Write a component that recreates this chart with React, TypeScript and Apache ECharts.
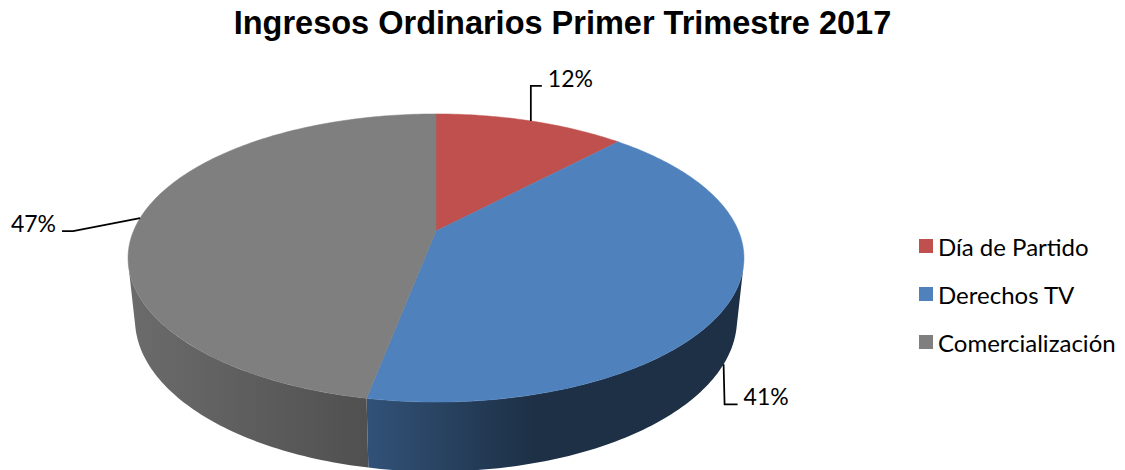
import React, { useEffect, useRef } from "react";
import * as echarts from "echarts";

// ---- data ----
const categories = ["Día de Partido", "Derechos TV", "Comercialización"];
const values = [12, 41, 47];
const sliceColors = ["#C0504D", "#4F81BD", "#7F7F7F"];
const titleText = "Ingresos Ordinarios Primer Trimestre 2017";

// ---- layout (3D projection of the pie) ----
const FONT = "Lato";
const TITLE_FONT = "Liberation Sans";
const CX = 436;
const CY = 231;
const SCALE = 302.5;
const SIN_E = 0.4595;
const COS_E = Math.sqrt(1 - SIN_E * SIN_E);
const DIST = 4.74;
const DEPTH = 0.23;
// leader line elbows / ends, relative to the slice anchor
const labelElbow = [[0, -35], [1, 40], [-67, 13]];
const labelEnd = [[11, -35], [14, 40], [-78, 13]];
// side shading along screen x (-1 left .. 1 right)
const shadeStops = [[0, 0.84], [0.4, 0.62], [0.66, 0.37], [1, 0.37]];

function project(thetaDeg: number, level: number): number[] {
  const t = (thetaDeg * Math.PI) / 180;
  const X = Math.sin(t);
  const Z = Math.cos(t);
  const Y = -DEPTH * level;
  const yc = Y * COS_E + Z * SIN_E;
  const zc = Z * COS_E - Y * SIN_E;
  const w = 1 + zc / DIST;
  return [CX + (SCALE * X) / w, CY - (SCALE * yc) / w];
}

function scaleColor(hex: string, f: number): string {
  const n = parseInt(hex.slice(1), 16);
  const r = Math.round(((n >> 16) & 255) * f);
  const g = Math.round(((n >> 8) & 255) * f);
  const b = Math.round((n & 255) * f);
  return `rgb(${r},${g},${b})`;
}

const total = values.reduce((a, b) => a + b, 0);

function renderSlice(params: any, api: any) {
  const idx = params.dataIndex;
  let before = 0;
  for (let i = 0; i < idx; i++) before += values[i];
  const v = api.value(0);
  const a = (before / total) * 360;
  const b = ((before + v) / total) * 360;
  const base = sliceColors[idx];
  const children: any[] = [];

  // visible side wall
  const lim = (Math.acos(-1 / (DIST * COS_E)) * 180) / Math.PI;
  const lo = Math.max(a, lim);
  const hi = Math.min(b, 360 - lim);
  if (hi > lo) {
    const topPts: number[][] = [];
    const botPts: number[][] = [];
    const n = Math.max(2, Math.ceil(hi - lo));
    for (let k = 0; k <= n; k++) {
      const th = lo + ((hi - lo) * k) / n;
      topPts.push(project(th, 0));
      botPts.push(project(th, 1));
    }
    const pts = topPts.concat(botPts.reverse());
    const grad = new echarts.graphic.LinearGradient(
      CX - SCALE,
      0,
      CX + SCALE,
      0,
      shadeStops.map((s) => ({ offset: s[0], color: scaleColor(base, s[1]) })),
      true
    );
    children.push({
      type: "polygon",
      z2: 1,
      shape: { points: pts },
      style: { fill: grad, stroke: null },
    });
  }

  // top face
  const top: number[][] = [[CX, CY]];
  const m = Math.max(2, Math.ceil(b - a));
  for (let k = 0; k <= m; k++) top.push(project(a + ((b - a) * k) / m, 0));
  children.push({
    type: "polygon",
    z2: 10,
    shape: { points: top },
    style: { fill: base, stroke: base, lineWidth: 0.5 },
  });

  // label with leader line
  const mid = (a + b) / 2;
  const anchor = Math.cos((mid * Math.PI) / 180) < 0 ? project(mid, 1) : project(mid, 0);
  const el = labelElbow[idx];
  const en = labelEnd[idx];
  const elbow = [anchor[0] + el[0], anchor[1] + el[1]];
  const end = [anchor[0] + en[0], anchor[1] + en[1]];
  children.push({
    type: "polyline",
    z2: 20,
    shape: { points: [anchor, elbow, end] },
    style: { stroke: "#000", lineWidth: 1.75, fill: null },
  });
  const right = en[0] > el[0];
  children.push({
    type: "text",
    z2: 20,
    x: right ? end[0] + 6 : end[0] - 6,
    y: end[1] - 8,
    style: {
      text: Math.round((v / total) * 100) + "%",
      fill: "#000",
      font: `23px ${FONT}`,
      align: right ? "left" : "right",
      verticalAlign: "middle",
    },
  });

  return { type: "group", children };
}

export default function App() {
  const ref = useRef<HTMLDivElement>(null);
  useEffect(() => {
    if (!ref.current) return;
    const chart = echarts.init(ref.current, undefined, { renderer: "svg" });
    chart.setOption({
      animation: false,
      backgroundColor: "#fff",
      title: {
        text: titleText,
        left: "center",
        top: 6,
        padding: 0,
        textStyle: { fontSize: 32.5, fontWeight: "bold", fontFamily: TITLE_FONT, color: "#000" },
      },
      legend: {
        data: categories,
        orient: "vertical",
        left: 919,
        top: 234,
        padding: 0,
        itemWidth: 14,
        itemHeight: 14,
        itemGap: 24,
        icon: "rect",
        selectedMode: false,
        textStyle: { fontSize: 24, fontFamily: FONT, color: "#000" },
      },
      series: [
        {
          type: "custom",
          coordinateSystem: "none",
          renderItem: renderSlice,
          data: values,
          silent: true,
        },
        {
          type: "pie",
          radius: [0, 0],
          center: [-200, -200],
          silent: true,
          label: { show: false },
          labelLine: { show: false },
          data: categories.map((name, i) => ({
            name,
            value: values[i],
            itemStyle: { color: sliceColors[i] },
          })),
        },
      ],
    });
    return () => chart.dispose();
  }, []);
  return (
    <div
      ref={ref}
      style={{ position: "fixed", left: 0, top: 0, width: 1125, height: 470 }}
    />
  );
}
